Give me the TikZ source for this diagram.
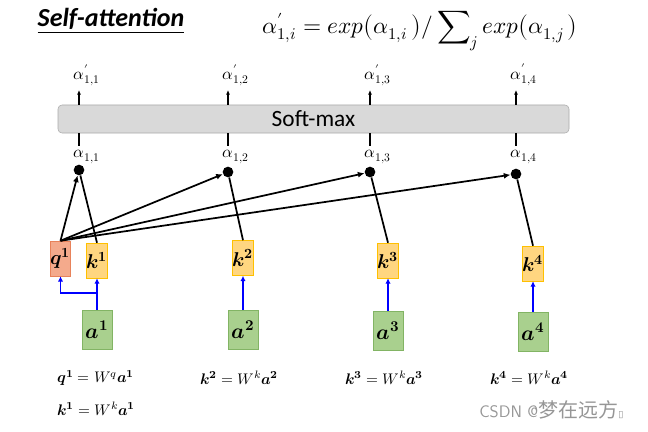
\documentclass[tikz,border=0pt]{standalone}
\usepackage{amsmath}
\usepackage{fontspec}
\usepackage{unicode-math}
\setmathfont{Latin Modern Math}
\newfontfamily\calib{Carlito}
\newfontfamily\cjk{Noto Sans CJK SC}
\newfontfamily\djv{DejaVu Sans}
\usetikzlibrary{arrows.meta,calc}
\definecolor{qfill}{RGB}{244,170,140}
\definecolor{qdraw}{RGB}{232,130,90}
\definecolor{kfill}{RGB}{255,214,128}
\definecolor{kdraw}{RGB}{255,192,0}
\definecolor{afill}{RGB}{169,208,142}
\definecolor{adraw}{RGB}{130,180,100}
\definecolor{smfill}{RGB}{217,217,217}
\definecolor{smdraw}{RGB}{170,170,170}
\definecolor{wm}{RGB}{150,150,150}
\tikzset{
  qbox/.style={draw=qdraw, fill=qfill, minimum width=14.25pt, minimum height=26.25pt, inner sep=0pt, font=\fontsize{15}{17}\selectfont},
  kbox/.style={draw=kdraw, fill=kfill, minimum width=14.25pt, minimum height=26.25pt, inner sep=0pt, font=\fontsize{15}{17}\selectfont},
  abox/.style={draw=adraw, fill=afill, minimum width=22.5pt, minimum height=29.25pt, inner sep=0pt, font=\fontsize{16}{18}\selectfont},
  dotnode/.style={circle, fill=black, minimum size=8pt, inner sep=0pt},
  lbl/.style={inner sep=0pt, font=\fontsize{12.5}{14}\selectfont},
  att/.style={-{Latex[length=5pt,width=4.5pt]}, line width=1.3pt},
  kln/.style={line width=1.3pt},
  blu/.style={-{Latex[length=4pt,width=4pt]}, blue, line width=1.3pt},
  upar/.style={-{Latex[length=3.5pt,width=3pt]}, line width=1pt},
  eq/.style={inner sep=0pt, anchor=west, font=\fontsize{11.5}{13}\selectfont},
}
\begin{document}
\begin{tikzpicture}[x=0.75pt,y=-0.75pt]
\useasboundingbox (0,0) rectangle (648,431);
% title
\node[inner sep=0pt] (title) at (111,21) {\calib\fontsize{19.5}{22}\selectfont\bfseries\itshape\underline{Self-attention}};
\node[inner sep=0pt] (form) at (420,31) {\fontsize{17.5}{19}\selectfont $\alpha'_{1,i} = exp\bigl(\alpha_{1,i}\,\bigr)/\displaystyle\sum\nolimits_j exp\bigl(\alpha_{1,j}\,\bigr)$};
% softmax
\node[draw=smdraw, fill=smfill, rounded corners=3pt, minimum width=383.25pt, minimum height=21pt, inner sep=0pt] (sm) at (313.5,119) {\calib\fontsize{17.5}{20}\selectfont Soft-max};
% columns
\foreach \i/\x/\dy in {1/79/170,2/228/172,3/370/172,4/516/174}{
  \coordinate (top\i) at (\x,105);
  \coordinate (tip\i) at (\x,90);
  \coordinate (bot\i) at (\x,133);
  \coordinate (low\i) at (\x,146);
  \node[lbl] (ap\i) at (\x+8,75) {$\alpha'_{1,\i}$};
  \node[lbl] (al\i) at (\x+8,157) {$\alpha_{1,\i}$};
  \node[dotnode] (d\i) at (\x,\dy) {};
  \draw[upar] (top\i) -- (tip\i);
  \draw[line width=1pt] (bot\i) -- (low\i);
}
% boxes
\node[qbox] (q1) at (60.5,258.5) {$\symbfit{q}^{\symbf{1}}$};
\node[kbox] (k1) at (97,260.5) {$\symbfit{k}^{\symbf{1}}$};
\node[kbox] (k2) at (243,258) {$\symbfit{k}^{\symbf{2}}$};
\node[kbox] (k3) at (388,260.5) {$\symbfit{k}^{\symbf{3}}$};
\node[kbox] (k4) at (533,263.5) {$\symbfit{k}^{\symbf{4}}$};
\node[abox] (a1) at (97,329.5) {$\symbfit{a}^{\symbf{1}}$};
\node[abox] (a2) at (243,329.5) {$\symbfit{a}^{\symbf{2}}$};
\node[abox] (a3) at (388,330.5) {$\symbfit{a}^{\symbf{3}}$};
\node[abox] (a4) at (533,331.5) {$\symbfit{a}^{\symbf{4}}$};
% attention lines
\foreach \i in {1,2,3,4}{
  \draw[att] (q1.north) -- (d\i);
  \draw[kln] (k\i.north) -- (d\i);
}
% blue arrows
\coordinate (br) at (97,293);
\draw[blu] (a1.north) -- (k1.south);
\draw[blu] (br) -| (q1.south);
\draw[blu] (a2.north) -- (k2.south);
\draw[blu] (a3.north) -- (k3.south);
\draw[blu] (a4.north) -- (k4.south);
% equations
\node[eq] (e1) at (57,378) {$\symbfit{q}^{\symbf{1}} = W^{q}\symbfit{a}^{\symbf{1}}$};
\node[eq] (e2) at (200,378) {$\symbfit{k}^{\symbf{2}} = W^{k}\symbfit{a}^{\symbf{2}}$};
\node[eq] (e3) at (345,378) {$\symbfit{k}^{\symbf{3}} = W^{k}\symbfit{a}^{\symbf{3}}$};
\node[eq] (e4) at (490,378) {$\symbfit{k}^{\symbf{4}} = W^{k}\symbfit{a}^{\symbf{4}}$};
\node[eq] (e5) at (57,409) {$\symbfit{k}^{\symbf{1}} = W^{k}\symbfit{a}^{\symbf{1}}$};
\node[inner sep=0pt, anchor=west, text=wm] (wmk) at (479,410) {\fontsize{12.5}{14}\selectfont\sffamily CSDN @{\cjk\fontsize{15}{17}\selectfont 梦在远方}{\djv\fontsize{7}{8}\selectfont ▯}};
\end{tikzpicture}
\end{document}
